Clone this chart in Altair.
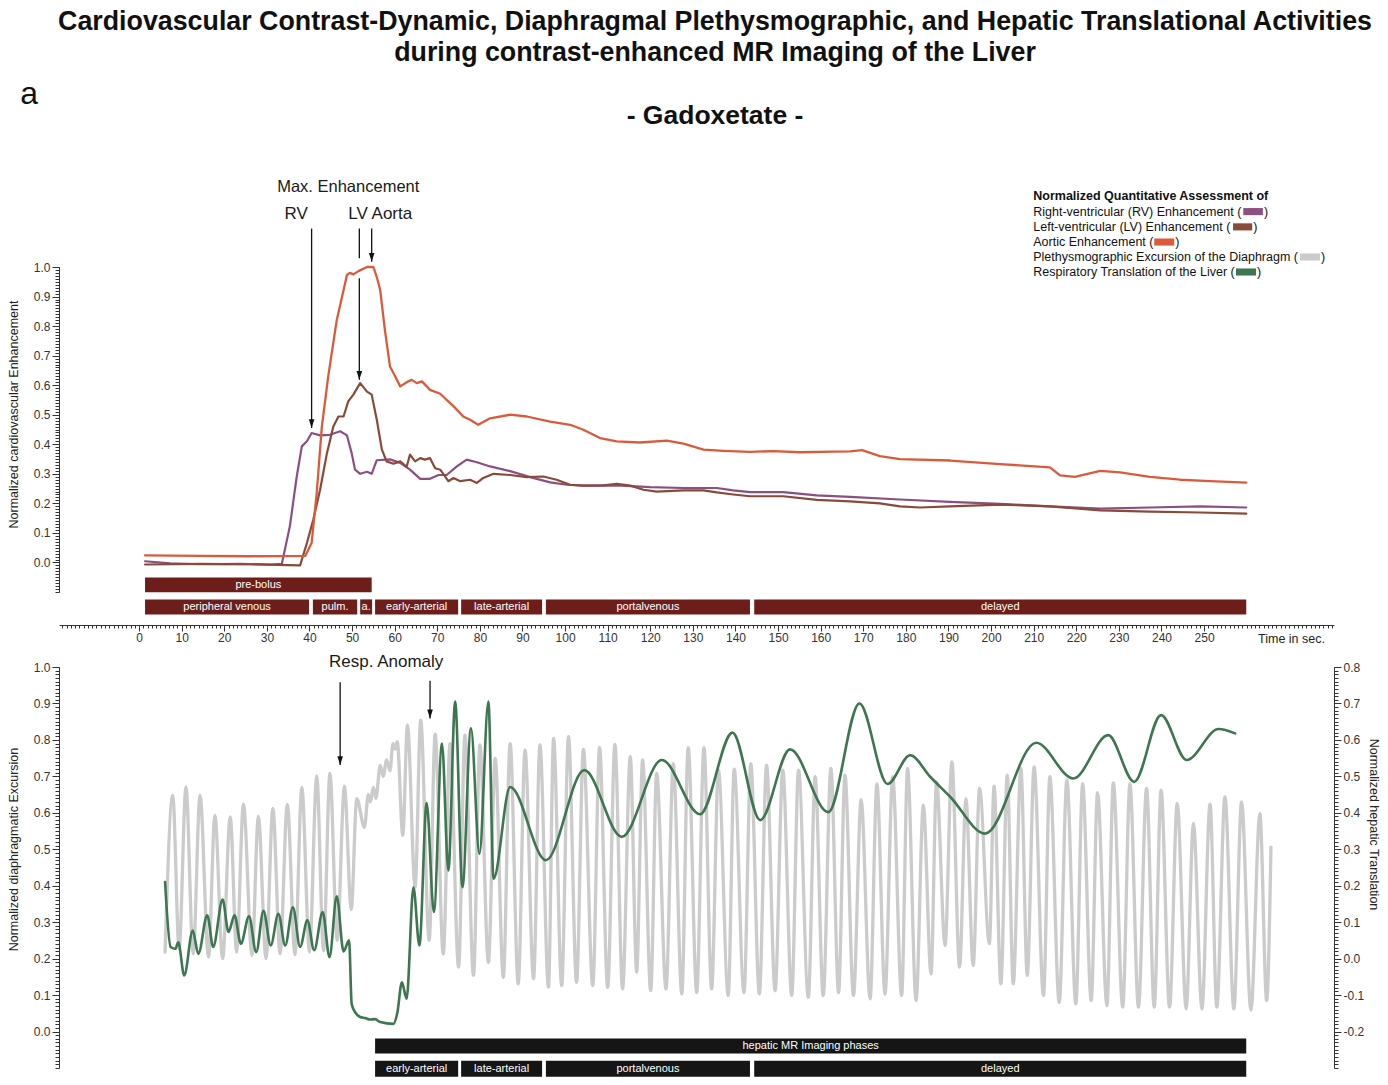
import altair as alt
import pandas as pd

FONT = "Liberation Sans"

# ---------------- data ----------------
# (time in s, normalized enhancement)
rv_enh = [(1.4, 0.004), (7.3, -0.003), (14.3, -0.006), (23.7, -0.005), (30.8, -0.007), (33.5, -0.005),
          (35.4, 0.123), (37.0, 0.29), (38.2, 0.393), (39.4, 0.41), (40.5, 0.438), (42.5, 0.43), (44.8, 0.432),
          (47.2, 0.444), (48.8, 0.43), (49.9, 0.37), (50.7, 0.314), (51.9, 0.30), (53.5, 0.307), (54.6, 0.30),
          (55.8, 0.346), (58.9, 0.349), (61.3, 0.337), (63.6, 0.314), (66.0, 0.283), (68.3, 0.283), (70.3, 0.296),
          (72.2, 0.296), (74.6, 0.325), (76.9, 0.348), (79.3, 0.339), (82.4, 0.325), (87.1, 0.309), (91.8, 0.289),
          (96.5, 0.271), (100.4, 0.263), (104.3, 0.26), (112.1, 0.261), (120.0, 0.255), (127.8, 0.252),
          (135.6, 0.252), (139.5, 0.244), (143.4, 0.238), (151.2, 0.238), (159.1, 0.227), (166.9, 0.222),
          (178.6, 0.213), (190.4, 0.205), (202.1, 0.198), (213.8, 0.19), (225.6, 0.182), (237.3, 0.186),
          (249.1, 0.19), (259.9, 0.186)]

lv_enh = [(1.4, -0.007), (14.3, -0.005), (26.1, -0.006), (37.8, -0.01), (39.4, 0.066), (40.9, 0.145),
          (42.5, 0.247), (44.1, 0.37), (45.6, 0.46), (46.8, 0.494), (48.0, 0.494), (49.1, 0.545), (50.3, 0.568),
          (51.9, 0.607), (53.5, 0.578), (54.6, 0.568), (55.8, 0.483), (57.0, 0.382), (58.1, 0.342), (59.7, 0.334),
          (61.3, 0.342), (62.8, 0.324), (63.6, 0.365), (64.8, 0.342), (66.0, 0.353), (67.1, 0.348), (68.3, 0.353),
          (69.5, 0.319), (70.7, 0.314), (71.4, 0.30), (72.6, 0.275), (73.8, 0.286), (75.4, 0.275), (77.7, 0.28),
          (79.3, 0.269), (80.8, 0.286), (83.2, 0.30), (87.1, 0.296), (91.0, 0.289), (94.9, 0.291), (98.0, 0.28),
          (101.2, 0.263), (104.3, 0.26), (109.0, 0.261), (112.1, 0.266), (115.3, 0.26), (118.4, 0.246),
          (121.5, 0.24), (127.8, 0.244), (132.5, 0.244), (135.6, 0.237), (139.5, 0.23), (143.4, 0.224),
          (151.2, 0.224), (159.1, 0.212), (166.9, 0.207), (173.9, 0.20), (178.6, 0.19), (183.3, 0.186),
          (190.4, 0.19), (202.1, 0.196), (213.8, 0.19), (225.6, 0.176), (237.3, 0.172), (249.1, 0.169),
          (259.9, 0.165)]

aorta_enh = [(1.4, 0.024), (14.3, 0.022), (26.1, 0.021), (39.0, 0.022), (40.5, 0.066), (41.7, 0.235),
             (42.9, 0.46), (44.4, 0.63), (46.4, 0.82), (48.8, 0.973), (49.5, 0.98), (50.3, 0.975), (51.5, 0.986),
             (53.5, 1.0), (55.0, 1.0), (55.8, 0.966), (56.6, 0.922), (57.7, 0.787), (58.9, 0.663), (60.1, 0.63),
             (61.3, 0.596), (63.2, 0.613), (64.0, 0.618), (65.2, 0.607), (66.4, 0.613), (68.3, 0.584),
             (70.7, 0.571), (72.2, 0.55), (73.8, 0.529), (76.1, 0.494), (77.7, 0.483), (79.6, 0.466),
             (82.4, 0.488), (87.1, 0.50), (91.0, 0.494), (96.5, 0.477), (101.2, 0.466), (104.3, 0.449),
             (108.2, 0.421), (112.1, 0.41), (117.6, 0.406), (123.9, 0.412), (127.8, 0.402), (132.5, 0.382),
             (137.2, 0.378), (143.4, 0.374), (148.9, 0.377), (155.2, 0.373), (163.0, 0.375), (166.9, 0.376),
             (169.7, 0.38), (173.9, 0.36), (178.6, 0.35), (190.4, 0.345), (202.1, 0.333), (213.8, 0.322),
             (216.2, 0.295), (219.7, 0.29), (225.6, 0.31), (230.3, 0.305), (237.3, 0.29), (244.4, 0.28),
             (251.4, 0.275), (259.9, 0.27)]

# (time in s, normalized diaphragmatic excursion) - peaks and troughs
diaphragm = [(6.1, 0.218), (7.9, 0.648), (9.4, 0.227), (11.0, 0.671), (12.7, 0.213), (14.3, 0.648),
             (16.3, 0.204), (17.8, 0.593), (19.6, 0.200), (21.4, 0.589), (22.9, 0.218), (24.5, 0.624),
             (26.5, 0.209), (28.0, 0.590), (29.8, 0.200), (31.4, 0.612), (33.1, 0.213), (34.8, 0.623),
             (36.6, 0.211), (38.2, 0.670), (40.0, 0.218), (41.7, 0.701), (43.3, 0.222), (44.8, 0.708),
             (46.5, 0.25), (48.2, 0.673), (49.8, 0.335), (51.1, 0.639), (52.9, 0.56), (53.8, 0.65), (54.3, 0.63),
             (55.0, 0.67), (55.6, 0.64), (56.6, 0.73), (57.3, 0.70), (58.1, 0.745), (58.9, 0.715), (59.6, 0.79),
             (60.1, 0.775), (60.6, 0.795), (61.9, 0.538), (63.0, 0.841), (64.8, 0.396), (66.1, 0.854),
             (68.1, 0.25), (69.5, 0.816), (71.4, 0.213), (73.0, 0.790), (75.0, 0.177), (76.5, 0.813),
             (78.5, 0.154), (80.0, 0.786), (82.0, 0.190), (83.6, 0.749), (85.5, 0.149), (87.1, 0.790),
             (89.0, 0.131), (90.6, 0.772), (92.6, 0.145), (94.1, 0.786), (96.1, 0.122), (97.3, 0.804),
             (99.2, 0.126), (100.8, 0.809), (102.7, 0.135), (104.3, 0.774), (106.5, 0.126), (108.1, 0.779),
             (110.0, 0.121), (111.7, 0.788), (113.5, 0.117), (115.3, 0.754), (116.8, 0.163), (118.2, 0.745),
             (120.1, 0.112), (121.5, 0.709), (123.7, 0.117), (125.4, 0.735), (127.4, 0.103), (128.9, 0.779),
             (130.9, 0.107), (132.6, 0.779), (134.4, 0.117), (136.0, 0.717), (138.3, 0.099), (139.7, 0.72),
             (142.0, 0.107), (143.6, 0.735), (145.6, 0.103), (147.3, 0.731), (149.3, 0.112), (151.1, 0.717),
             (153.2, 0.099), (154.8, 0.717), (157.1, 0.094), (158.7, 0.699), (160.6, 0.099), (162.4, 0.722),
             (164.2, 0.107), (165.7, 0.703), (167.7, 0.099), (169.5, 0.636), (171.6, 0.090), (173.2, 0.679),
             (175.1, 0.103), (176.9, 0.699), (179.0, 0.099), (180.4, 0.722), (182.4, 0.085), (184.1, 0.621),
             (185.9, 0.158), (187.2, 0.685), (189.2, 0.236), (190.8, 0.740), (192.6, 0.177), (194.1, 0.639),
             (195.8, 0.181), (197.3, 0.667), (199.6, 0.241), (200.7, 0.673), (202.3, 0.131), (203.8, 0.703),
             (205.2, 0.131), (207.0, 0.722), (208.5, 0.154), (210.1, 0.726), (212.3, 0.099), (213.8, 0.699),
             (216.0, 0.080), (217.8, 0.690), (219.9, 0.076), (221.5, 0.679), (223.5, 0.085), (225.0, 0.655),
             (227.2, 0.071), (228.7, 0.682), (230.9, 0.067), (232.6, 0.679), (234.6, 0.067), (236.5, 0.667),
             (238.3, 0.067), (239.9, 0.662), (241.9, 0.067), (243.7, 0.626), (245.8, 0.062), (247.5, 0.571),
             (249.5, 0.062), (251.4, 0.624), (253.0, 0.067), (254.9, 0.644), (257.0, 0.062), (258.8, 0.630),
             (261.0, 0.058), (263.1, 0.598), (264.7, 0.085), (265.7, 0.506)]

# (time in s, normalized hepatic translation) - right axis
liver = [(6.1, 0.210), (7.4, 0.032), (8.5, 0.027), (9.2, 0.045), (10.6, -0.046), (12.6, 0.077), (13.9, 0.013),
         (16.0, 0.119), (17.4, 0.032), (19.6, 0.162), (21.0, 0.073), (22.4, 0.119), (23.9, 0.041), (25.8, 0.116),
         (27.5, 0.018), (29.2, 0.131), (30.9, 0.036), (32.7, 0.123), (34.3, 0.036), (36.1, 0.141), (37.8, 0.032),
         (39.5, 0.105), (41.1, 0.023), (43.1, 0.128), (44.7, 0.004), (46.4, 0.171), (48.0, 0.020), (49.3, 0.050),
         (49.9, -0.124), (50.7, -0.147), (51.9, -0.160), (53.1, -0.163), (54.2, -0.167), (55.4, -0.166),
         (56.6, -0.174), (59.7, -0.179), (60.6, -0.15), (61.7, -0.065), (62.8, -0.110), (64.4, 0.196),
         (65.8, 0.036), (67.5, 0.427), (69.2, 0.128), (71.1, 0.590), (72.6, 0.242), (74.2, 0.705), (75.9, 0.196),
         (77.9, 0.632), (79.9, 0.288), (82.0, 0.705), (83.2, 0.219), (87.1, 0.471), (95.5, 0.270), (104.5, 0.517),
         (113.3, 0.334), (122.7, 0.545), (131.7, 0.396), (139.3, 0.620), (145.8, 0.380), (152.8, 0.574),
         (161.8, 0.402), (169.1, 0.700), (175.7, 0.479), (181.0, 0.558), (185.7, 0.499), (190.4, 0.444),
         (198.6, 0.343), (210.6, 0.592), (219.3, 0.494), (227.5, 0.613), (233.6, 0.485), (239.9, 0.668),
         (245.9, 0.545), (253.4, 0.630), (257.3, 0.618)]

top_phase_names = ["pre-bolus", "peripheral venous", "pulm.", "a.", "early-arterial", "late-arterial",
                   "portalvenous", "delayed"]
top_phase_start = [1.4, 1.4, 40.8, 51.9, 55.4, 75.6, 95.5, 144.4]
top_phase_end = [54.6, 39.9, 51.2, 54.7, 74.9, 94.6, 143.4, 259.9]
top_phase_row = [0, 1, 1, 1, 1, 1, 1, 1]

mr_phase_names = ["hepatic MR Imaging phases", "early-arterial", "late-arterial", "portalvenous", "delayed"]
mr_phase_start = [55.4, 55.4, 75.6, 95.5, 144.4]
mr_phase_end = [259.9, 74.9, 94.6, 143.4, 259.9]
mr_phase_row = [0, 1, 1, 1, 1]

legend_title = "Normalized Quantitative Assessment of"
legend_labels = ["Right-ventricular (RV) Enhancement (", "Left-ventricular (LV) Enhancement (",
                 "Aortic Enhancement (", "Plethysmographic Excursion of the Diaphragm (",
                 "Respiratory Translation of the Liver ("]

x_tick_values = list(range(0, 251, 10))

# ---------------- styles / layout ----------------
RV_C, LV_C, AO_C = "#8b4f80", "#8a4a3a", "#dc5a3c"
GREY_C, GREEN_C = "#cbcbcb", "#3e7652"
BAR_RED, BAR_BLACK = "#6e1e1a", "#151515"
legend_colors = [RV_C, LV_C, AO_C, GREY_C, GREEN_C]

W, HT, HB = 1275, 325, 401
XS = alt.Scale(domain=[-18.8, 280.5], nice=False, zero=False)
def yscale(lo, hi):
    return alt.Scale(domain=[lo, hi], nice=False, zero=False)
YT = yscale(-0.1, 1.0)
YB = yscale(-0.1, 1.0)
YR = yscale(-0.3, 0.8)

TOP_ROWS = [(-0.051, -0.101), (-0.125, -0.176)]
MR_ROWS = [(-0.019, -0.060), (-0.080, -0.124)]

# annotation anchors (data units)
top_notes = pd.DataFrame({"text": ["Max. Enhancement", "RV", "LV Aorta"],
                          "t": [49.1, 36.9, 56.6], "v": [1.270, 1.179, 1.179], "fs": [16.5, 17, 17]})
top_arrows = pd.DataFrame({"t": [40.5, 51.7, 51.7, 54.6], "v1": [1.13, 1.13, 0.962, 1.13],
                           "v2": [0.455, 1.03, 0.618, 1.018]})
top_heads = pd.DataFrame({"t": [40.5, 51.7, 54.6], "v": [0.455, 0.618, 1.018]})
bot_notes = pd.DataFrame({"text": ["Resp. Anomaly"], "t": [58.0], "v": [1.014], "fs": [17]})
bot_arrows = pd.DataFrame({"t": [47.2, 68.3], "v1": [0.958, 0.962], "v2": [0.731, 0.859]})
bot_heads = pd.DataFrame({"t": [47.2, 68.3], "v": [0.731, 0.859]})
panel_letter = pd.DataFrame({"text": ["a"], "t": [-27.9], "v": [1.551]})

LEG_T = 209.9
LEG_V = [1.2399, 1.1875, 1.1358, 1.0845, 1.0338, 0.9831]
legend_swatch_start = [259.2, 256.8, 238.3, 272.5, 257.5]
legend_swatch_end = [263.8, 261.3, 243.0, 277.2, 262.2]

ARROW_HEAD = "M-0.7,-2.2L0.7,-2.2L0,0Z"

# ---------------- tables ----------------
def xy(pairs):
    return pd.DataFrame(pairs, columns=["t", "v"])

rv_df, lv_df, ao_df = xy(rv_enh), xy(lv_enh), xy(aorta_enh)
dia_df, liv_df = xy(diaphragm), xy(liver)

def phase_df(names, start, end, row, rows):
    d = pd.DataFrame({"name": names, "s": start, "e": end, "row": row})
    d["y1"] = [rows[r][0] for r in row]
    d["y2"] = [rows[r][1] for r in row]
    d["ym"] = (d["y1"] + d["y2"]) / 2
    d["mid"] = (d["s"] + d["e"]) / 2
    return d

top_ph = phase_df(top_phase_names, top_phase_start, top_phase_end, top_phase_row, TOP_ROWS)
mr_ph = phase_df(mr_phase_names, mr_phase_start, mr_phase_end, mr_phase_row, MR_ROWS)

leg_title_df = pd.DataFrame({"text": [legend_title], "t": [LEG_T], "v": [LEG_V[0]]})
leg_df = pd.DataFrame({"text": legend_labels, "t": [LEG_T] * 5, "v": LEG_V[1:],
                       "s": legend_swatch_start, "e": legend_swatch_end, "c": legend_colors})
leg_df["vt"] = leg_df["v"] + 0.012
leg_df["vb"] = leg_df["v"] - 0.012
leg_df["pt"] = leg_df["e"] + 0.25
leg_df["paren"] = ")"

# ---------------- axes ----------------
AX = dict(grid=False, domainColor="#333", tickColor="#333", labelColor="#333",
          labelFont=FONT, labelFontSize=12, titleFont=FONT, titleColor="#222",
          titleFontSize=12.5, titleFontWeight="normal")

x_major = alt.Axis(orient="bottom", offset=33, values=x_tick_values, tickSize=6, labelPadding=1,
                   title="Time in sec.", titleX=1232, titleY=7, titleAlign="center",
                   titleBaseline="top", titleAngle=0, **AX)
x_minor = alt.Axis(orient="bottom", offset=33, values=list(range(-18, 281)), tickSize=3,
                   labels=False, domain=False, title=None, grid=False, tickColor="#333")

def y_major(title, ty, orient="left", tx=-46, angle=-90, lo=0, hi=10):
    return alt.Axis(orient=orient, values=[round(i * 0.1, 1) for i in range(lo, hi + 1)], format=".1f",
                    labelExpr="replace(datum.label, '\u2212', '-')",
                    tickSize=7, labelPadding=2, title=title, titleX=tx, titleY=ty,
                    titleAngle=angle, titleAlign="center", titleBaseline="middle", **AX)

def y_minor(lo, hi, orient="left"):
    return alt.Axis(orient=orient, values=[round(i * 0.01, 2) for i in range(lo, hi + 1)], tickSize=4,
                    labels=False, domain=False, title=None, grid=False, tickColor="#333")

# ---------------- layer helpers ----------------
def line(df, color, sw, ys, xaxis=None, yaxis=None, interp="linear", opacity=1.0):
    return alt.Chart(df).mark_line(color=color, strokeWidth=sw, interpolate=interp, opacity=opacity,
                                   strokeJoin="round", strokeCap="round").encode(
        x=alt.X("t:Q", scale=XS, axis=xaxis),
        y=alt.Y("v:Q", scale=ys, axis=yaxis))

def bars(df, color, ys):
    rect = alt.Chart(df).mark_rect(color=color).encode(
        x=alt.X("s:Q", scale=XS, axis=None), x2="e:Q",
        y=alt.Y("y1:Q", scale=ys, axis=None), y2="y2:Q")
    txt = alt.Chart(df).mark_text(color="white", fontSize=11, font=FONT, baseline="middle").encode(
        x=alt.X("mid:Q", scale=XS, axis=None), y=alt.Y("ym:Q", scale=ys, axis=None), text="name:N")
    return [rect, txt]

def notes(df, ys):
    return alt.Chart(df).mark_text(color="#1a1a1a", font=FONT, baseline="middle").encode(
        x=alt.X("t:Q", scale=XS, axis=None), y=alt.Y("v:Q", scale=ys, axis=None),
        text="text:N", size=alt.Size("fs:Q", scale=None))

def arrows(rules, heads, ys):
    r = alt.Chart(rules).mark_rule(color="#111", strokeWidth=1.3).encode(
        x=alt.X("t:Q", scale=XS, axis=None), y=alt.Y("v1:Q", scale=ys, axis=None), y2="v2:Q")
    h = alt.Chart(heads).mark_point(shape=ARROW_HEAD, filled=True, color="#111", size=64, opacity=1,
                                    strokeWidth=0).encode(
        x=alt.X("t:Q", scale=XS, axis=None), y=alt.Y("v:Q", scale=ys, axis=None))
    return [r, h]

# ---------------- top panel ----------------
legend_layers = [
    alt.Chart(leg_title_df).mark_text(align="left", baseline="middle", font=FONT, fontSize=12.5,
                                      fontWeight="bold", color="#111").encode(
        x=alt.X("t:Q", scale=XS, axis=None), y=alt.Y("v:Q", scale=YT, axis=None), text="text:N"),
    alt.Chart(leg_df).mark_text(align="left", baseline="middle", font=FONT, fontSize=12.5,
                                color="#111").encode(
        x=alt.X("t:Q", scale=XS, axis=None), y=alt.Y("v:Q", scale=YT, axis=None), text="text:N"),
    alt.Chart(leg_df).mark_rect().encode(
        x=alt.X("s:Q", scale=XS, axis=None), x2="e:Q",
        y=alt.Y("vb:Q", scale=YT, axis=None), y2="vt:Q", color=alt.Color("c:N", scale=None)),
    alt.Chart(leg_df).mark_text(align="left", baseline="middle", font=FONT, fontSize=12.5,
                                color="#111").encode(
        x=alt.X("pt:Q", scale=XS, axis=None), y=alt.Y("v:Q", scale=YT, axis=None), text="paren:N"),
]

letter = alt.Chart(panel_letter).mark_text(align="left", baseline="alphabetic", font=FONT, fontSize=32,
                                           color="#111").encode(
    x=alt.X("t:Q", scale=XS, axis=None), y=alt.Y("v:Q", scale=YT, axis=None), text="text:N")

top = alt.layer(
    *bars(top_ph, BAR_RED, YT),
    line(rv_df, RV_C, 2.2, YT, xaxis=x_major, yaxis=y_major("Normalized cardiovascular Enhancement", 147)),
    line(rv_df, RV_C, 2, YT, xaxis=x_minor, yaxis=y_minor(-10, 100), opacity=0),
    line(lv_df, LV_C, 2.2, YT),
    line(ao_df, AO_C, 2.3, YT),
    notes(top_notes, YT),
    *arrows(top_arrows, top_heads, YT),
    *legend_layers,
    letter,
).resolve_axis(x="independent", y="independent").properties(width=W, height=HT)

# ---------------- bottom panel ----------------
bottom = alt.layer(
    line(dia_df, GREY_C, 3.3, YB, yaxis=y_major("Normalized diaphragmatic Excursion", 182), interp="monotone"),
    line(dia_df, GREY_C, 1, YB, yaxis=y_minor(-10, 100), opacity=0),
    line(liv_df, GREEN_C, 2.6, YR,
         yaxis=y_major("Normalized hepatic Translation", 157, orient="right", tx=39, angle=90, lo=-2, hi=8),
         interp="monotone"),
    line(liv_df, GREEN_C, 1, YR, yaxis=y_minor(-30, 80, orient="right"), opacity=0),
    *bars(mr_ph, BAR_BLACK, YB),
    notes(bot_notes, YB),
    *arrows(bot_arrows, bot_heads, YB),
).resolve_scale(y="independent").resolve_axis(y="independent").properties(width=W, height=HB)

chart = alt.vconcat(
    top, bottom, spacing=75, bounds="flush",
    title=alt.TitleParams(
        text=["Cardiovascular Contrast-Dynamic, Diaphragmal Plethysmographic, and Hepatic Translational Activities",
              "during contrast-enhanced MR Imaging of the Liver"],
        subtitle="- Gadoxetate -",
        font=FONT, fontSize=26.8, fontWeight="bold", color="#111", lineHeight=31, anchor="middle",
        subtitleFont=FONT, subtitleFontSize=26.5, subtitleFontWeight="bold", subtitleColor="#111",
        subtitlePadding=35.5, offset=-51, dx=22),
).properties(
    padding={"left": 7, "top": 9, "right": 5, "bottom": 5}, background="white"
).configure(font=FONT).configure_view(stroke=None)

chart.save("out.html", embed_options={"renderer": "svg", "actions": False})
